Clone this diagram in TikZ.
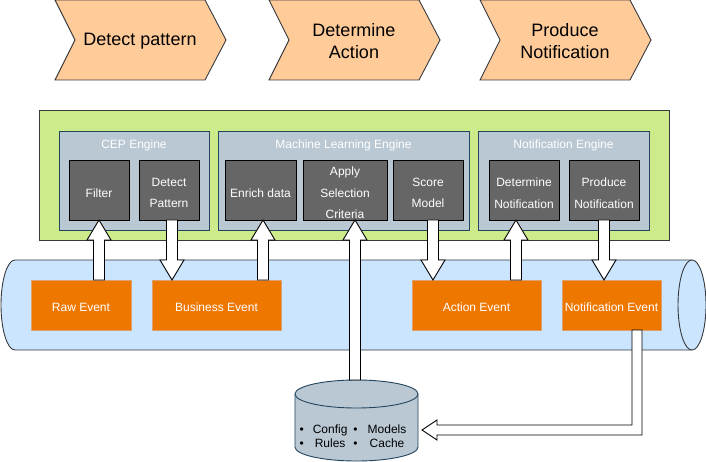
\documentclass[tikz,border=0pt]{standalone}
\usepackage{fontspec}
\setmainfont{Liberation Sans}
\usetikzlibrary{calc}

\definecolor{peach}{HTML}{FFCC99}
\definecolor{lime}{HTML}{CDEB8B}
\definecolor{slate}{HTML}{BAC8D3}
\definecolor{navy}{HTML}{23445D}
\definecolor{edgegray}{HTML}{36393D}
\definecolor{unitgray}{HTML}{666666}
\definecolor{pipeblue}{HTML}{CCE5FF}
\definecolor{eventorange}{HTML}{EE7700}
\definecolor{eventedge}{HTML}{DDA06C}

\tikzset{
  stage/.style={fill=peach, draw=edgegray, line width=0.9pt},
  stagetext/.style={font=\fontsize{18}{22}\selectfont, align=center},
  box/.style={rectangle, anchor=north west, inner sep=0pt, outer sep=0pt, line width=0.9pt},
  platform/.style={box, fill=lime, draw=edgegray, minimum width=630, minimum height=130},
  engine/.style={box, fill=slate, draw=navy, minimum height=99,
    label={[anchor=north, yshift=-5pt, text=white, font=\fontsize{12}{14}\selectfont]north:#1}},
  unit/.style={box, fill=unitgray, draw=black, minimum height=60,
    label={[yshift=-3pt, text=white, align=center, font=\fontsize{12}{21.5}\selectfont]center:#1}},
  event/.style={box, fill=eventorange, draw=eventedge, text=white, minimum height=50,
    text height=12.5pt, text depth=0pt, font=\fontsize{12}{14}\selectfont},
  pipe/.style={fill=pipeblue, draw=edgegray, line width=0.9pt},
  store/.style={fill=slate, draw=navy, line width=0.9pt},
  hollow/.style={fill=white, draw=black, line width=0.9pt, line join=miter}
}

% #1 x of the shaft, #2 tail, #3 head
\newcommand{\blockarrow}[3]{%
  \draw[hollow] let \p1=(#2), \p2=(#3), \n1={sign(\y2-\y1)} in
    (#1pt-5.5pt,\y1) -- (#1pt-5.5pt,\y2-20pt*\n1) -- (#1pt-12pt,\y2-20pt*\n1)
    -- (#1pt,\y2) -- (#1pt+12pt,\y2-20pt*\n1) -- (#1pt+5.5pt,\y2-20pt*\n1)
    -- (#1pt+5.5pt,\y1) -- cycle;}

\begin{document}
\begin{tikzpicture}[x=1pt,y=-1pt]
\useasboundingbox (0,0) rectangle (706,462);

\foreach \x/\txt [count=\i] in {55/Detect pattern, 269/{Determine\\Action}, 480/{Produce\\Notification}} {
  \draw[stage] (\x,0) -- ++(150,0) -- ++(21,40) -- ++(-21,40) -- ++(-150,0) -- ++(20,-40) -- cycle;
  \node[stagetext] (stage\i) at (\x+85,41) {\txt};
}

\node[platform] (platform) at (39,110) {};
\node[engine=CEP Engine, minimum width=150] (cep) at (59,131) {};
\node[engine=Machine Learning Engine, minimum width=251] (ml) at (218,131) {};
\node[engine=Notification Engine, minimum width=171] (ne) at (478,131) {};

\node[unit=Filter, minimum width=60] (filter) at (69,160) {};
\node[unit={Detect\\Pattern}, minimum width=60] (detect) at (139,160) {};
\node[unit=Enrich data, minimum width=71] (enrich) at (225,160) {};
\node[unit={Apply\\Selection\\Criteria}, minimum width=84] (apply) at (303,160) {};
\node[unit={Score\\Model}, minimum width=70] (score) at (393,160) {};
\node[unit={Determine\\Notification}, minimum width=70] (detnot) at (489,160) {};
\node[unit={Produce\\Notification}, minimum width=70] (prodnot) at (569,160) {};

% event bus
\draw[pipe] (15,260) -- (692,260) arc[start angle=90, end angle=-90, x radius=14pt, y radius=45pt]
  -- (15,350) arc[start angle=270, end angle=90, x radius=14pt, y radius=45pt] -- cycle;
\draw[pipe] (692,260) arc[start angle=90, end angle=270, x radius=14pt, y radius=45pt];

\node[event, minimum width=100] (raw) at (31,280) {Raw Event};
\node[event, minimum width=129] (bus) at (152,280) {Business Event};
\node[event, minimum width=129] (act) at (412,280) {Action Event};
\node[event, minimum width=99] (notev) at (562,280) {Notification Event};

% data store
\draw[store] (295,394) -- (295,447) arc[start angle=180, end angle=360, x radius=61.5pt, y radius=14pt]
  -- (418,394) arc[start angle=0, end angle=180, x radius=61.5pt, y radius=14pt] -- cycle;
\draw[store] (295,394) arc[start angle=180, end angle=360, x radius=61.5pt, y radius=14pt];
\node[font=\fontsize{12}{14}\selectfont, inner sep=0pt] (db) at (353,437.5)
  {\begin{tabular}{@{}c@{\hspace{9pt}}c@{\hspace{6pt}}c@{\hspace{10pt}}c@{}}
   \textbullet & Config & \textbullet & Models\\
   \textbullet & Rules & \textbullet & Cache
   \end{tabular}};
\coordinate (dbtop) at (355,380);
\coordinate (dbright) at (422,430);

\blockarrow{99}{raw.north}{filter.south}
\blockarrow{172}{detect.south}{bus.north}
\blockarrow{263}{bus.north}{enrich.south}
\blockarrow{355}{dbtop}{apply.south}
\blockarrow{433}{score.south}{act.north}
\blockarrow{516}{act.north}{detnot.south}
\blockarrow{604}{prodnot.south}{notev.north}

\draw[hollow] let \p1=(notev.south), \p2=(dbright) in
  (632pt,\y1) -- (632pt,\y2+5pt) -- (\x2+15pt,\y2+5pt) -- (\x2+15pt,\y2+10pt) -- (\x2,\y2)
  -- (\x2+15pt,\y2-10pt) -- (\x2+15pt,\y2-5pt) -- (642pt,\y2-5pt) -- (642pt,\y1) -- cycle;

\end{tikzpicture}
\end{document}
